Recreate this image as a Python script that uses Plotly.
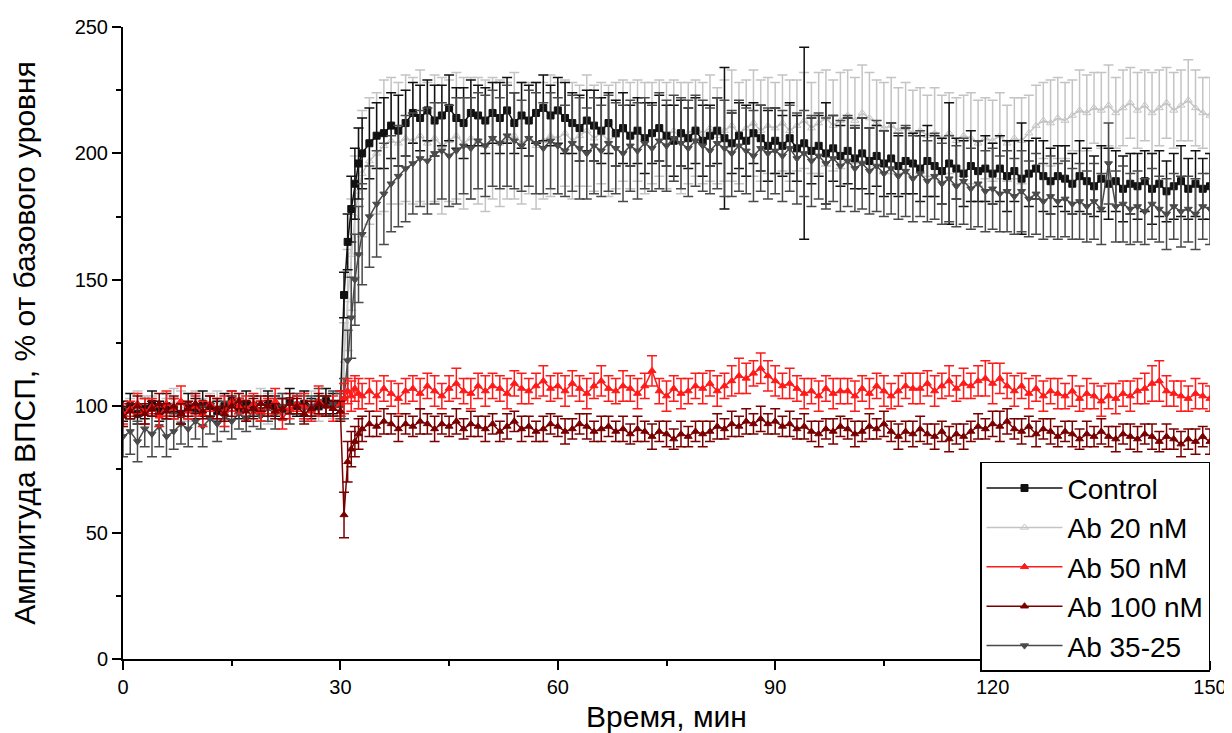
import plotly.graph_objects as go

# Time axis (min): 1-min steps, half-minute steps around the 30-min stimulation
TIME_MIN = list(range(0, 30)) + [30, 30.5, 31, 31.5, 32, 32.5, 33] + list(range(34, 151))

SERIES_NAMES = ["Control", "Ab 20 nM", "Ab 50 nM", "Ab 100 nM", "Ab 35-25"]

control = [
    98,100,97,99,101,98,100,99,97,100, 99,101,100,98,100,102,99,101,100,98,
    101,100,99,102,100,101,99,100,102,101,
    101,144,165,178,188,196,200,
    204,207,208,211,209,212,
    216,214,217,213,215,218,214,212,216,215,
    213,216,214,217,212,215,213,216,218,215,
    217,214,212,210,213,211,209,212,208,210,
    207,209,206,208,210,207,205,208,206,209,
    205,207,209,206,204,207,205,208,206,203,
    205,203,206,202,204,201,203,200,202,199,
    201,198,200,197,199,196,198,195,197,196,
    194,197,195,193,196,194,192,195,193,194,
    192,194,191,193,190,192,194,191,189,191,
    190,188,191,189,187,190,188,189,186,188,
    187,189,186,188,185,187,189,186,188,186,
    187]
control_err = [
    4,5,4,4,5,4,5,4,4,5, 4,5,4,4,5,4,4,5,4,4, 5,4,4,5,4,5,4,4,5,4,
    5,9,11,13,14,14,14,
    14,13,14,13,14,13,
    12,13,12,14,12,13,12,14,13,12,
    13,12,14,13,12,13,14,12,13,12,
    13,14,12,13,12,14,13,12,13,14,
    12,13,14,12,13,12,14,13,12,13,
    14,12,13,28,12,13,14,12,13,14,
    13,12,14,13,38,13,12,20,13,12,
    13,12,14,13,12,13,14,12,13,12,
    13,14,12,13,24,12,13,14,12,13,
    12,13,14,12,22,13,12,14,13,12,
    13,12,14,13,12,13,14,12,13,12,
    13,12,14,13,12,13,14,12,13,12,
    13]

ab20 = [
    97,99,101,98,100,97,99,102,100,98, 101,99,100,102,98,100,101,99,100,102,
    99,101,100,98,101,100,102,99,101,100,
    100,118,142,160,175,185,192,
    197,200,203,205,204,206,
    205,207,204,206,203,205,207,204,206,205,
    203,206,204,205,207,204,206,203,205,207,
    206,208,205,207,209,206,208,205,207,209,
    207,209,206,208,210,207,209,206,208,210,
    208,210,207,209,211,208,210,212,209,211,
    210,212,209,211,213,210,212,214,211,213,
    215,213,216,214,212,210,211,209,210,208,
    209,207,208,206,208,205,207,206,204,206,
    205,207,204,206,205,208,211,213,212,214,
    213,215,217,216,218,217,219,216,218,220,
    217,219,216,218,220,217,219,221,218,216,
    215]
ab20_err = [
    5,4,5,6,4,5,4,5,6,4, 5,4,5,4,6,5,4,5,4,5, 6,4,5,5,4,5,4,5,4,5,
    5,15,20,22,24,25,25,
    25,24,26,25,24,25,
    25,26,24,25,27,24,25,26,24,25,
    26,24,25,23,25,24,22,25,23,24,
    22,21,23,20,22,21,20,22,21,20,
    21,20,22,20,19,21,20,22,20,19,
    20,21,19,20,22,20,19,21,20,19,
    18,19,20,18,19,18,20,19,18,19,
    18,17,19,18,17,18,19,17,18,17,
    17,16,18,17,16,17,16,18,17,16,
    16,17,15,16,17,15,16,15,17,16,
    15,14,16,15,14,15,16,14,15,14,
    15,14,16,15,14,15,14,16,15,14,
    15]

ab50 = [
    97,99,101,98,100,96,101,99,102,98, 100,97,101,99,98,102,100,99,101,98,
    100,102,95,99,101,100,98,102,100,99,
    101,103,106,104,107,105,104,
    106,104,107,105,103,106,
    107,105,108,106,104,107,109,106,105,108,
    106,108,107,105,109,107,106,108,110,107,
    108,106,109,107,105,108,110,107,106,108,
    107,105,108,114,106,104,107,105,106,108,
    107,109,106,108,110,112,111,113,115,112,
    110,108,109,107,105,106,104,107,105,106,
    106,104,107,105,108,106,104,106,108,107,
    107,109,106,108,110,107,109,108,110,111,
    109,111,108,106,108,105,107,104,106,105,
    104,106,103,105,104,102,104,103,105,104,
    106,107,109,110,106,105,104,103,105,104,
    103]
ab50_err = [
    4,3,4,5,3,4,5,4,6,3, 4,5,3,4,6,4,3,5,4,4, 3,5,4,4,3,5,4,6,4,5,
    5,6,5,6,5,6,5,
    5,6,5,5,6,5,
    5,6,5,6,5,5,6,5,6,5,
    6,5,5,6,5,6,5,5,6,5,
    5,6,5,5,6,5,6,5,5,6,
    5,6,5,6,5,6,5,6,5,5,
    6,5,6,5,6,7,6,5,6,6,
    6,5,6,5,6,5,6,5,6,5,
    5,6,5,6,5,6,5,6,5,6,
    6,5,6,5,6,5,6,5,6,7,
    8,6,5,6,5,6,5,6,5,6,
    5,6,5,6,5,6,5,6,5,6,
    5,6,7,8,6,5,6,5,6,5,
    5]

ab100 = [
    96,98,100,97,99,101,98,100,97,99, 101,98,100,99,97,100,102,98,99,101,
    100,98,99,101,100,97,99,101,100,99,
    98,57,78,83,86,89,91,
    93,92,94,93,91,93,
    92,94,93,91,93,92,94,91,93,92,
    91,93,90,92,94,91,92,90,91,93,
    92,90,91,93,92,90,91,92,90,91,
    89,91,90,88,90,89,87,89,88,90,
    89,90,92,91,93,92,94,93,95,93,
    94,92,93,91,92,90,89,91,90,92,
    91,89,90,92,91,93,90,88,90,89,
    91,89,88,90,87,89,88,90,92,91,
    93,92,94,91,90,92,89,91,90,88,
    90,89,87,89,88,90,88,87,89,88,
    87,89,88,86,88,87,85,87,86,88,
    86]
ab100_err = [
    4,3,4,4,3,4,3,4,4,3, 4,3,4,4,3,4,3,4,4,3, 4,3,4,4,3,4,3,4,4,3,
    4,9,8,7,6,6,5,
    5,4,5,4,5,4,
    4,5,4,5,4,4,5,4,5,4,
    5,4,4,5,4,5,4,4,5,4,
    4,5,4,4,5,4,5,4,4,5,
    4,5,4,5,4,5,4,5,4,4,
    5,4,5,4,5,4,5,4,5,4,
    5,4,5,4,5,4,5,4,5,4,
    4,5,4,5,4,5,4,5,4,5,
    5,4,5,4,5,4,5,4,5,4,
    5,6,5,4,5,4,5,4,5,4,
    4,5,4,5,4,5,4,5,4,5,
    5,4,5,4,5,4,5,4,5,4,
    5]

ab3525 = [
    88,90,86,91,89,92,88,90,93,91, 94,92,95,93,96,94,97,95,98,96,
    99,97,100,98,101,99,100,102,100,101,
    100,103,118,135,150,160,168,
    175,180,184,188,191,194,
    196,198,197,200,201,199,201,203,202,205,
    203,206,204,207,205,203,206,204,202,205,
    203,201,204,202,200,203,201,204,202,200,
    203,201,204,202,205,203,206,204,202,205,
    203,201,204,202,200,203,201,199,202,200,
    201,199,202,198,200,197,199,196,198,195,
    197,194,196,193,195,192,194,191,193,190,
    192,189,191,188,190,187,189,186,188,185,
    186,184,185,183,185,182,184,181,183,181,
    182,180,181,179,181,178,196,179,180,178,
    179,177,180,178,176,179,177,178,176,179,
    178]
ab3525_err = [
    8,9,8,7,9,8,8,7,8,7, 7,8,6,7,6,7,6,5,6,5, 5,6,5,5,4,5,4,5,4,5,
    5,8,12,16,18,19,20,
    20,21,20,19,20,21,
    20,19,21,20,19,20,21,19,20,19,
    20,19,18,20,19,18,19,20,18,19,
    19,18,19,20,18,19,18,19,18,19,
    18,19,18,17,19,18,17,18,19,18,
    18,17,18,19,17,18,17,18,17,18,
    17,18,17,18,17,18,17,18,17,18,
    18,17,18,17,18,17,18,17,18,17,
    17,16,17,16,17,16,17,16,17,16,
    16,15,16,15,16,15,16,15,16,15,
    15,14,15,14,15,14,16,14,15,14,
    14,13,14,13,14,13,14,13,14,13,
    14]

COLORS = {"Control": "#111111", "Ab 20 nM": "#c4c4c4", "Ab 50 nM": "#ff1a1a",
          "Ab 100 nM": "#7a0000", "Ab 35-25": "#4a4a4a"}
SYMBOLS = {"Control": "square", "Ab 20 nM": "triangle-up-open", "Ab 50 nM": "triangle-up",
           "Ab 100 nM": "triangle-up", "Ab 35-25": "triangle-down"}
DATA = {"Control": (control, control_err), "Ab 20 nM": (ab20, ab20_err),
        "Ab 50 nM": (ab50, ab50_err), "Ab 100 nM": (ab100, ab100_err),
        "Ab 35-25": (ab3525, ab3525_err)}

DRAW_ORDER = ["Ab 20 nM", "Control", "Ab 35-25", "Ab 50 nM", "Ab 100 nM"]

FONT = "Liberation Sans, Arial, sans-serif"

fig = go.Figure()
for name in DRAW_ORDER:
    y, e = DATA[name]
    c = COLORS[name]
    fig.add_trace(go.Scatter(
        x=TIME_MIN, y=y, name=name, mode="lines+markers",
        legendrank=SERIES_NAMES.index(name) + 1,
        line=dict(color=c, width=1.5),
        marker=dict(symbol=SYMBOLS[name], size=7, color=c,
                    line=dict(color=c, width=1)),
        error_y=dict(type="data", array=e, symmetric=True, color=c,
                     thickness=1.5, width=5),
    ))

axis_font = dict(family=FONT, size=20, color="black")
# page body adds an 8px offset; the figure is sized so the plot area lands at x 123-1210, y 27-659
fig.update_layout(
    width=1224, height=725,
    paper_bgcolor="white", plot_bgcolor="white",
    margin=dict(l=115, r=22, t=19, b=74),
    font=dict(family=FONT, color="black"),
    showlegend=True,
    legend=dict(x=1.0, y=0.312, xanchor="right", yanchor="top",
                bordercolor="black", borderwidth=1.5, bgcolor="white",
                font=dict(size=28, family=FONT),
                itemwidth=76, tracegroupgap=0),
)
fig.update_xaxes(
    range=[0, 150], tickvals=[0, 30, 60, 90, 120, 150], automargin=False,
    showgrid=False, zeroline=False, showline=True, linecolor="black", linewidth=2,
    ticks="outside", ticklen=9, tickwidth=2, tickcolor="black", tickfont=axis_font,
    minor=dict(tickvals=[15, 45, 75, 105, 135], ticks="outside", ticklen=5,
               tickwidth=2, tickcolor="black"),
    title=dict(text="Время, мин", font=dict(size=30, family=FONT), standoff=9),
)
fig.update_yaxes(
    range=[0, 250], tickvals=[0, 50, 100, 150, 200, 250], automargin=False,
    showgrid=False, zeroline=False, showline=True, linecolor="black", linewidth=2,
    ticks="outside", ticklen=9, tickwidth=2, tickcolor="black", tickfont=axis_font,
    minor=dict(tickvals=[25, 75, 125, 175, 225], ticks="outside", ticklen=5,
               tickwidth=2, tickcolor="black"),
    title=dict(text="Амплитуда ВПСП, % от базового уровня",
               font=dict(size=30, family=FONT), standoff=30),
)

fig.write_html("out.html")
